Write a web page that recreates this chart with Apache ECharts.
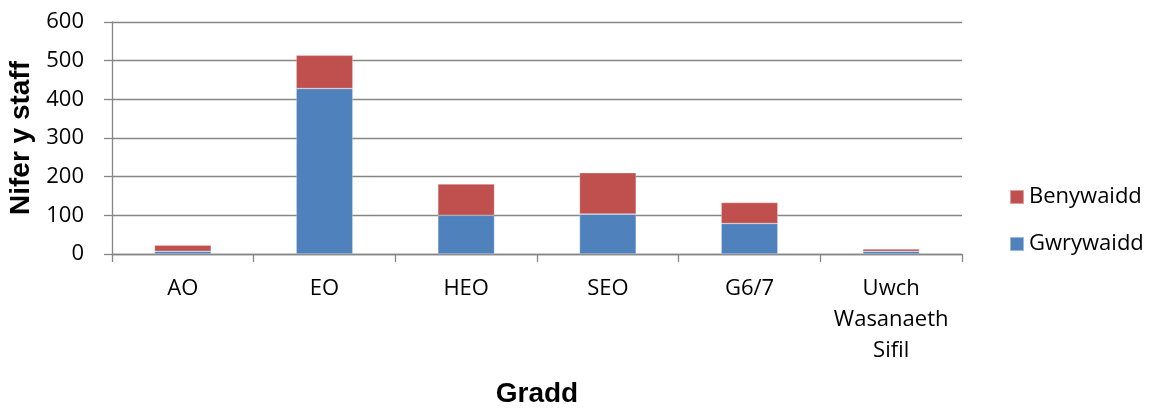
<!DOCTYPE html>
<html>
<head>
<meta charset="utf-8">
<script src="https://cdn.jsdelivr.net/npm/echarts@6/dist/echarts.min.js"></script>
<style>
  html, body { margin: 0; padding: 0; background: #ffffff; }
  #chart { width: 1160px; height: 408px; }
</style>
</head>
<body>
<div id="chart"></div>
<script>
// Staff numbers by grade, split by sex
const grades = ['AO', 'EO', 'HEO', 'SEO', 'G6/7', 'Uwch\nWasanaeth\nSifil'];
const gwrywaidd = [7, 428, 100, 103, 79, 7];
const benywaidd = [16, 86, 81, 107, 54, 6];
const yTicks = { min: 0, max: 600, interval: 100 };

const axisGrey = '#868686';
const labelFont = '"Open Sans", Lato, "Liberation Sans", sans-serif';
const titleFont = '"Liberation Sans", Arial, sans-serif';

const chart = echarts.init(document.getElementById('chart'), null, { renderer: 'canvas' });

chart.setOption({
  animation: false,
  backgroundColor: '#ffffff',
  grid: { left: 112, right: 198, top: 22, bottom: 154, containLabel: false, outerBoundsMode: 'none' },
  legend: {
    orient: 'vertical',
    left: 1004,
    top: 181,
    itemWidth: 14,
    itemHeight: 14,
    itemGap: 25,
    icon: 'rect',
    data: ['Benywaidd', 'Gwrywaidd'],
    textStyle: { fontFamily: labelFont, fontSize: 22, lineHeight: 22, color: '#000000' }
  },
  xAxis: {
    type: 'category',
    data: grades,
    name: 'Gradd',
    nameLocation: 'middle',
    nameGap: 126,
    nameTextStyle: { fontFamily: titleFont, fontSize: 28, fontWeight: 'bold', color: '#000000' },
    axisLine: { lineStyle: { color: axisGrey, width: 1.3 } },
    axisTick: { show: true, length: 8, inside: false, alignWithLabel: false, lineStyle: { color: axisGrey, width: 1.3 } },
    axisLabel: { fontFamily: labelFont, fontSize: 22, color: '#000000', margin: 19, lineHeight: 31, interval: 0 }
  },
  yAxis: {
    type: 'value',
    min: yTicks.min,
    max: yTicks.max,
    interval: yTicks.interval,
    name: 'Nifer y staff',
    nameLocation: 'middle',
    nameGap: 75,
    nameTextStyle: { fontFamily: titleFont, fontSize: 28, fontWeight: 'bold', color: '#000000' },
    axisLine: { show: true, lineStyle: { color: axisGrey, width: 1.3 } },
    axisTick: { show: true, length: 8, lineStyle: { color: axisGrey, width: 1.3 } },
    axisLabel: { fontFamily: labelFont, fontSize: 22, color: '#000000', margin: 28 },
    splitLine: { show: true, lineStyle: { color: axisGrey, width: 1.3 } }
  },
  series: [
    {
      name: 'Gwrywaidd',
      type: 'bar',
      stack: 'staff',
      data: gwrywaidd,
      barCategoryGap: '60%',
      itemStyle: { color: '#4F81BD', borderColor: 'rgba(255,255,255,0.45)', borderWidth: 0.6 }
    },
    {
      name: 'Benywaidd',
      type: 'bar',
      stack: 'staff',
      data: benywaidd,
      barCategoryGap: '60%',
      itemStyle: { color: '#C0504D', borderColor: 'rgba(255,255,255,0.45)', borderWidth: 0.6 }
    }
  ]
});
</script>
</body>
</html>
